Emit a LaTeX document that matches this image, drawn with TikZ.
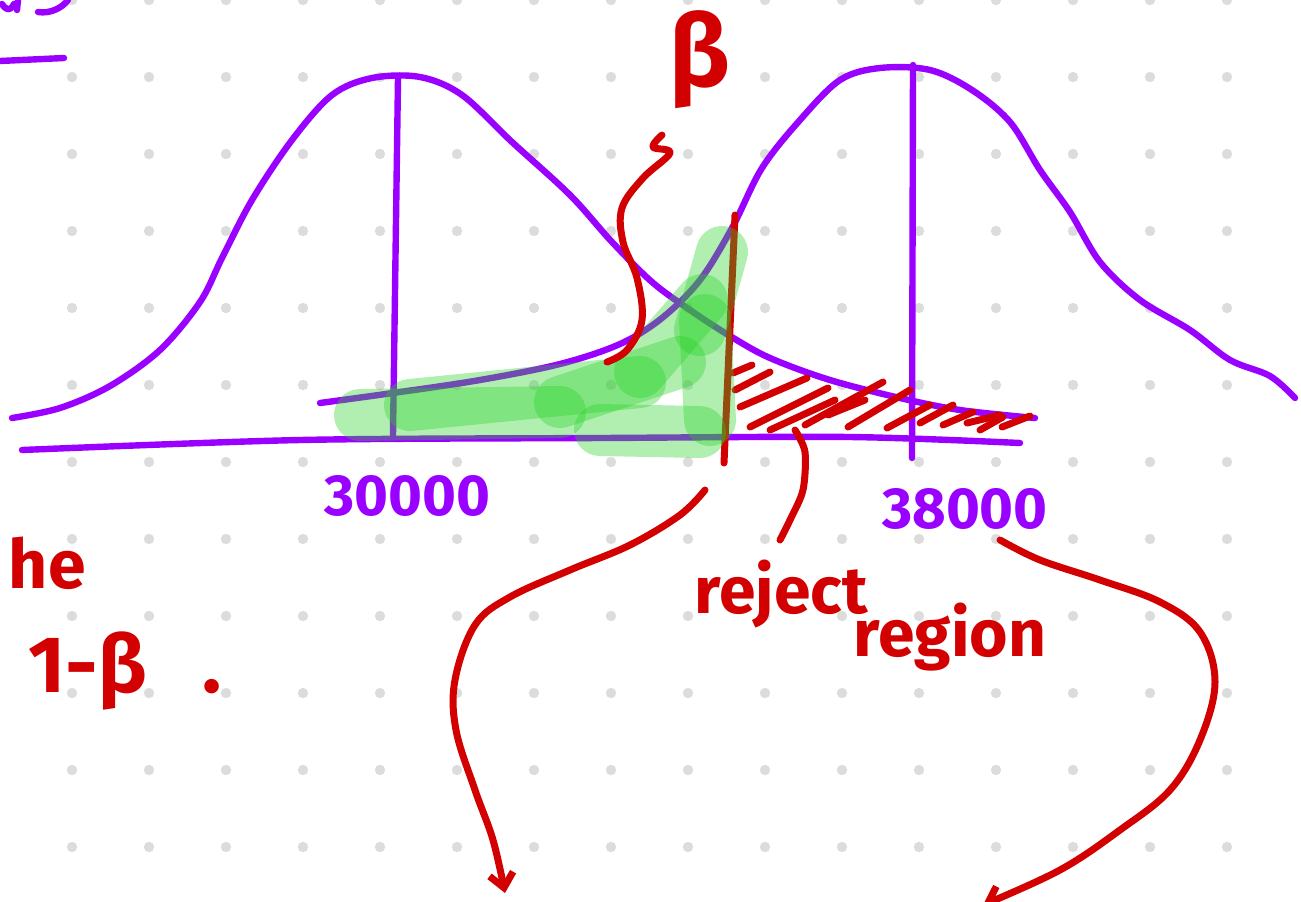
\documentclass[tikz,border=0pt]{standalone}
\usepackage{fontspec}
\setmainfont{Fira Sans}
\usetikzlibrary{arrows.meta,positioning}
\definecolor{inkpurple}{RGB}{153,0,255}
\definecolor{inkred}{RGB}{210,0,0}
\definecolor{hilite}{RGB}{40,210,40}
\definecolor{griddot}{RGB}{220,220,220}

\begin{document}
\begin{tikzpicture}[
    x=0.5pt, y=-0.5pt,
    pen/.style={line width=3.2pt, line cap=round, line join=round},
    purp/.style={pen, draw=inkpurple},
    redpen/.style={pen, draw=inkred, line width=3.5pt},
    marker/.style={draw=hilite, draw opacity=0.36, line width=26pt, line cap=round},
    arr/.style={redpen, -{Straight Barb[length=7pt, width=12pt]}},
    lbl/.style={font=\bfseries\fontsize{29}{30}\selectfont, text=inkpurple, inner sep=0pt},
    note/.style={font=\bfseries\fontsize{33}{34}\selectfont, text=inkred, inner sep=0pt}
]
\useasboundingbox (0,0) rectangle (1301,901);
% dotted paper
\foreach \gx in {0,...,15}
  \foreach \gy in {0,...,11}
    \fill[griddot] (72+77*\gx, 77*\gy) circle (2.6pt);

% left over from the page above
\draw[purp] (2,4) .. controls (6,10) and (10,12) .. (14,4);
\draw[purp] (18,0) -- (17,10);
\draw[purp] (38,12) .. controls (50,14) and (62,8) .. (68,0);
\draw[purp] (0,61) -- (64,58);

% the two curves
\draw[purp] plot[smooth, tension=0.55] coordinates {(12,418) (60,408) (110,386) (160,350) (200,302) (222,258) (252,200) (292,140) (332,95) (372,78) (420,77) (462,95) (512,142) (570,195) (612,242) (652,282) (690,310) (730,336) (770,358) (830,380) (900,398) (960,410) (1035,418)};
\draw[purp] plot[smooth, tension=0.55] coordinates {(320,403) (400,392) (480,380) (560,364) (620,344) (662,318) (700,280) (732,228) (762,168) (800,120) (840,80) (880,68) (930,70) (972,90) (1010,122) (1040,170) (1070,212) (1100,262) (1140,300) (1190,330) (1230,360) (1270,376) (1295,398)};
\draw[purp] plot[smooth] coordinates {(22,450) (300,440) (600,438) (850,437) (1020,443)};
\draw[purp] (398,78) -- (393,435);
\draw[purp] (913,65) -- (912,458);

% critical value
\coordinate (cuttop) at (735,215);
\coordinate (cutfoot) at (724,463);
\draw[redpen] (cuttop) -- (cutfoot);

% rejection area
\foreach \ax/\ay/\bx/\by in {733/373/752/365, 735/390/770/372, 740/407/807/378, 750/427/828/388,
    770/430/835/400, 805/425/883/382, 828/415/865/400, 848/427/910/390, 887/428/930/405, 920/423/953/405,
    943/425/973/412, 967/423/1000/415, 980/430/1003/417, 1002/427/1030/416}
  \draw[redpen] (\ax,\ay) -- (\bx,\by);

% beta area
\draw[marker] (360,415) -- (560,412);
\draw[marker] (410,405) -- (640,382);
\draw[marker] (560,402) -- (680,362);
\draw[marker] (600,430) -- (700,432);
\draw[marker] (700,330) -- (722,252);
\draw[marker] (705,320) -- (710,420);
\draw[marker] (640,372) -- (702,300);

% labels
\node[lbl, anchor=base] (low) at (407,515) {30000};
\node[lbl, anchor=base] (high) at (965,528) {38000};
\node[note, font=\bfseries\fontsize{50}{52}\selectfont, anchor=base] (beta) at (700,86) {β};
\node[note, anchor=base] (reject) at (781,613) {reject};
\node[note, anchor=base] (region) at (950,656) {region};
\node[note, font=\bfseries\fontsize{34}{35}\selectfont, anchor=base east] (the) at (86,588) {he};
\node[note, font=\bfseries\fontsize{40}{42}\selectfont, anchor=base west] (power) at (28,692) {1-β\hspace{28pt}.};

% pointers
\coordinate (betatip) at (607,362);
\draw[redpen] plot[smooth, tension=0.6] coordinates {(662,135) (653,147) (670,153) (643,178) (622,208) (623,242) (637,278) (642,320) (627,350) (betatip)};
\coordinate (rejtip) at (780,540);
\draw[redpen] plot[smooth] coordinates {(795,430) (805,452) (803,490) (790,520) (rejtip)};
\coordinate (downleft) at (505,893);
\draw[arr] plot[smooth, tension=0.6] coordinates {(705,490) (680,515) (630,545) (570,570) (510,597) (475,625) (455,680) (456,730) (475,790) (493,840) (downleft)};
\coordinate (downright) at (983,905);
\draw[arr] plot[smooth, tension=0.6] coordinates {(1000,540) (1040,560) (1100,580) (1160,602) (1200,632) (1215,682) (1200,740) (1170,790) (1120,830) (1060,870) (downright)};
\end{tikzpicture}
\end{document}
